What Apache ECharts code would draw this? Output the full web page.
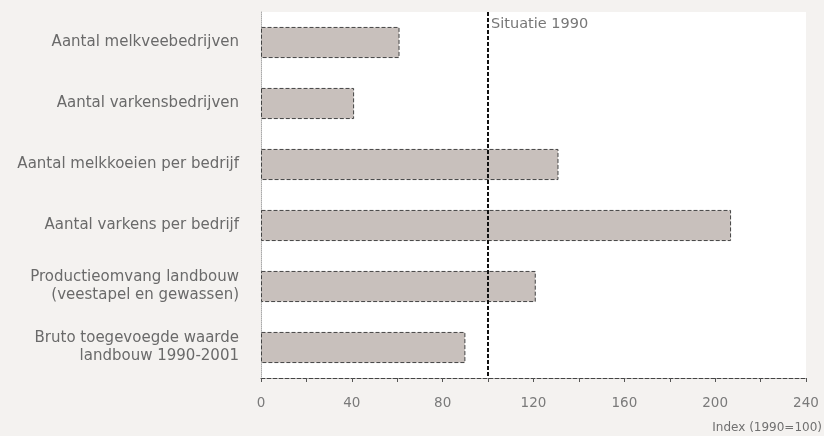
<!DOCTYPE html>
<html><head><meta charset="utf-8">
<script src="https://cdn.jsdelivr.net/npm/echarts@6/dist/echarts.min.js"></script>
<style>html,body{margin:0;padding:0;background:#f4f2f0;}#c{width:824px;height:436px;}</style>
</head><body><div id="c"></div>
<script>
const categories = [
  "Aantal melkveebedrijven",
  "Aantal varkensbedrijven",
  "Aantal melkkoeien per bedrijf",
  "Aantal varkens per bedrijf",
  "Productieomvang landbouw\n(veestapel en gewassen)",
  "Bruto toegevoegde waarde\nlandbouw 1990-2001"
];
const values = [61, 41, 131, 207, 121, 90];
const referenceValue = 100;
const referenceLabel = "Situatie 1990";
const axisName = "Index (1990=100)";

const chart = echarts.init(document.getElementById('c'));
chart.setOption({
  backgroundColor: '#f4f2f0',
  animation: false,
  grid: {left: 261, right: 18, top: 12, bottom: 58, show: true, backgroundColor: '#fff', borderWidth: 0, containLabel: false, outerBoundsMode: 'none'},
  xAxis: {
    type: 'value', min: 0, max: 240, interval: 40,
    name: axisName, nameLocation: 'end', nameGap: 16,
    nameTextStyle: {color: '#707070', fontFamily: 'DejaVu Sans', fontSize: 12, align: 'right', verticalAlign: 'top', padding: [44, 0, 0, 0]},
    axisLine: {show: true, lineStyle: {color: '#444', type: 'dashed', width: 1}},
    axisTick: {show: true, length: 4, lineStyle: {color: '#555'}},
    minorTick: {show: true, splitNumber: 2, length: 4, lineStyle: {color: '#555'}},
    splitLine: {show: false},
    axisLabel: {color: '#7a7a7a', fontFamily: 'DejaVu Sans', fontSize: 13.5, margin: 18}
  },
  yAxis: {
    type: 'category', data: categories, inverse: true,
    axisLine: {show: true, lineStyle: {color: '#aaa', type: 'dotted'}},
    axisTick: {show: false},
    axisLabel: {color: '#6a6a6a', fontFamily: 'DejaVu Sans', fontSize: 15, margin: 22, lineHeight: 18, align: 'right', padding: [6, 0, 0, 0]}
  },
  series: [{
    type: 'bar', data: values, barWidth: '51%',
    itemStyle: {color: '#c8c0bc', borderColor: '#444', borderWidth: 1, borderType: 'dashed'},
    markLine: {
      silent: true, symbol: 'none',
      lineStyle: {color: '#111', type: [4, 2], width: 2},
      label: {show: true, position: 'start', formatter: referenceLabel, color: '#777', fontFamily: 'DejaVu Sans', fontSize: 14.5, align: 'left', verticalAlign: 'top', offset: [3, 10]},
      data: [{xAxis: referenceValue}]
    }
  }]
});
</script></body></html>
